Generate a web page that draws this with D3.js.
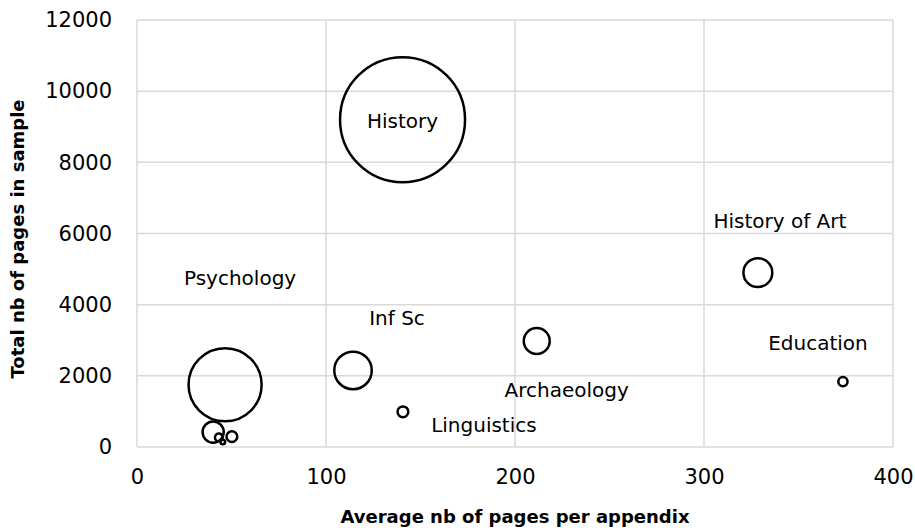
<!DOCTYPE html>
<html>
<head>
<meta charset="utf-8">
<script src="https://cdn.jsdelivr.net/npm/d3@7"></script>
<style>
  body { margin: 0; background: #fff; }
  svg text { font-family: "DejaVu Sans", sans-serif; fill: #000; }
</style>
</head>
<body>
<svg id="chart"></svg>
<script>
// Chart data
const labels = ['History', 'Psychology', 'Inf Sc', 'Archaeology', 'History of Art', 'Education', 'Linguistics', '', '', '', ''];
const avgPages = [140.5, 46.6, 114.3, 211.5, 328.5, 373.5, 140.7, 40.3, 43.3, 45.4, 50.2];
const totalPages = [9200, 1750, 2150, 2980, 4900, 1840, 990, 420, 270, 140, 290];
const appendices = [65, 38, 19.5, 13.5, 15, 4.8, 5.6, 11, 4, 2.4, 5.6];

const xTicks = [0, 100, 200, 300, 400];
const yTicks = [0, 2000, 4000, 6000, 8000, 10000, 12000];

const width = 915;
const height = 528;
const margin = { top: 20, right: 22, bottom: 81, left: 137 };
const innerW = width - margin.left - margin.right;
const innerH = height - margin.top - margin.bottom;

const svg = d3.select('#chart')
  .attr('width', width)
  .attr('height', height)
  .append('g')
  .attr('transform', `translate(${margin.left}, ${margin.top})`);

// Scales
const xScale = d3.scaleLinear().domain([0, 400]).range([0, innerW]);
const yScale = d3.scaleLinear().domain([0, 12000]).range([innerH, 0]);
const rScale = d3.scaleLinear().domain([0, 65]).range([0, 62.5]);

// Gridlines
svg.append('g')
  .selectAll('line')
  .data(yTicks)
  .enter()
  .append('line')
  .attr('x1', 0)
  .attr('x2', innerW)
  .attr('y1', d => yScale(d))
  .attr('y2', d => yScale(d))
  .attr('stroke', '#d9d9d9')
  .attr('stroke-width', 1.5);

svg.append('g')
  .selectAll('line')
  .data(xTicks)
  .enter()
  .append('line')
  .attr('y1', 0)
  .attr('y2', innerH)
  .attr('x1', d => xScale(d))
  .attr('x2', d => xScale(d))
  .attr('stroke', '#d9d9d9')
  .attr('stroke-width', 1.5);

// Axes (labels only, lines come from the grid)
const xAxis = d3.axisBottom(xScale).tickValues(xTicks).tickFormat(d3.format('d')).tickSize(0).tickPadding(22);
const yAxis = d3.axisLeft(yScale).tickValues(yTicks).tickFormat(d3.format('d')).tickSize(0).tickPadding(25);

svg.append('g')
  .attr('id', 'x-axis')
  .attr('transform', `translate(0, ${innerH})`)
  .call(xAxis)
  .call(g => g.select('.domain').remove())
  .selectAll('text')
  .style('font-size', '21px')
  .style('font-family', '"DejaVu Sans", sans-serif');

svg.append('g')
  .attr('id', 'y-axis')
  .call(yAxis)
  .call(g => g.select('.domain').remove())
  .selectAll('text')
  .style('font-size', '21px')
  .style('font-family', '"DejaVu Sans", sans-serif');

// Axis titles
svg.append('text')
  .attr('x', 378)
  .attr('y', innerH + 76)
  .attr('text-anchor', 'middle')
  .style('font-size', '18px')
  .style('font-weight', 'bold')
  .text('Average nb of pages per appendix');

svg.append('text')
  .attr('transform', `translate(${-113}, ${219}) rotate(-90)`)
  .attr('text-anchor', 'middle')
  .style('font-size', '18px')
  .style('font-weight', 'bold')
  .text('Total nb of pages in sample');

// Bubbles
const points = labels.map((l, i) => ({
  label: l, x: avgPages[i], y: totalPages[i], size: appendices[i]
}));

svg.append('g')
  .selectAll('circle')
  .data(points)
  .enter()
  .append('circle')
  .attr('cx', d => xScale(d.x))
  .attr('cy', d => yScale(d.y))
  .attr('r', d => rScale(d.size))
  .attr('fill', 'none')
  .attr('stroke', '#000')
  .attr('stroke-width', 2.5);

// Data label offsets (pixels from the bubble centre)
const labelOffsets = {
  'History': [0, 1],
  'Psychology': [15, -107],
  'Inf Sc': [44, -52],
  'Archaeology': [30, 49],
  'History of Art': [22, -52],
  'Education': [-25, -39],
  'Linguistics': [81, 13]
};

svg.append('g')
  .selectAll('text')
  .data(points.filter(d => d.label))
  .enter()
  .append('text')
  .attr('x', d => xScale(d.x) + labelOffsets[d.label][0])
  .attr('y', d => yScale(d.y) + labelOffsets[d.label][1])
  .attr('text-anchor', 'middle')
  .attr('dominant-baseline', 'central')
  .style('font-size', '20px')
  .text(d => d.label);
</script>
</body>
</html>
